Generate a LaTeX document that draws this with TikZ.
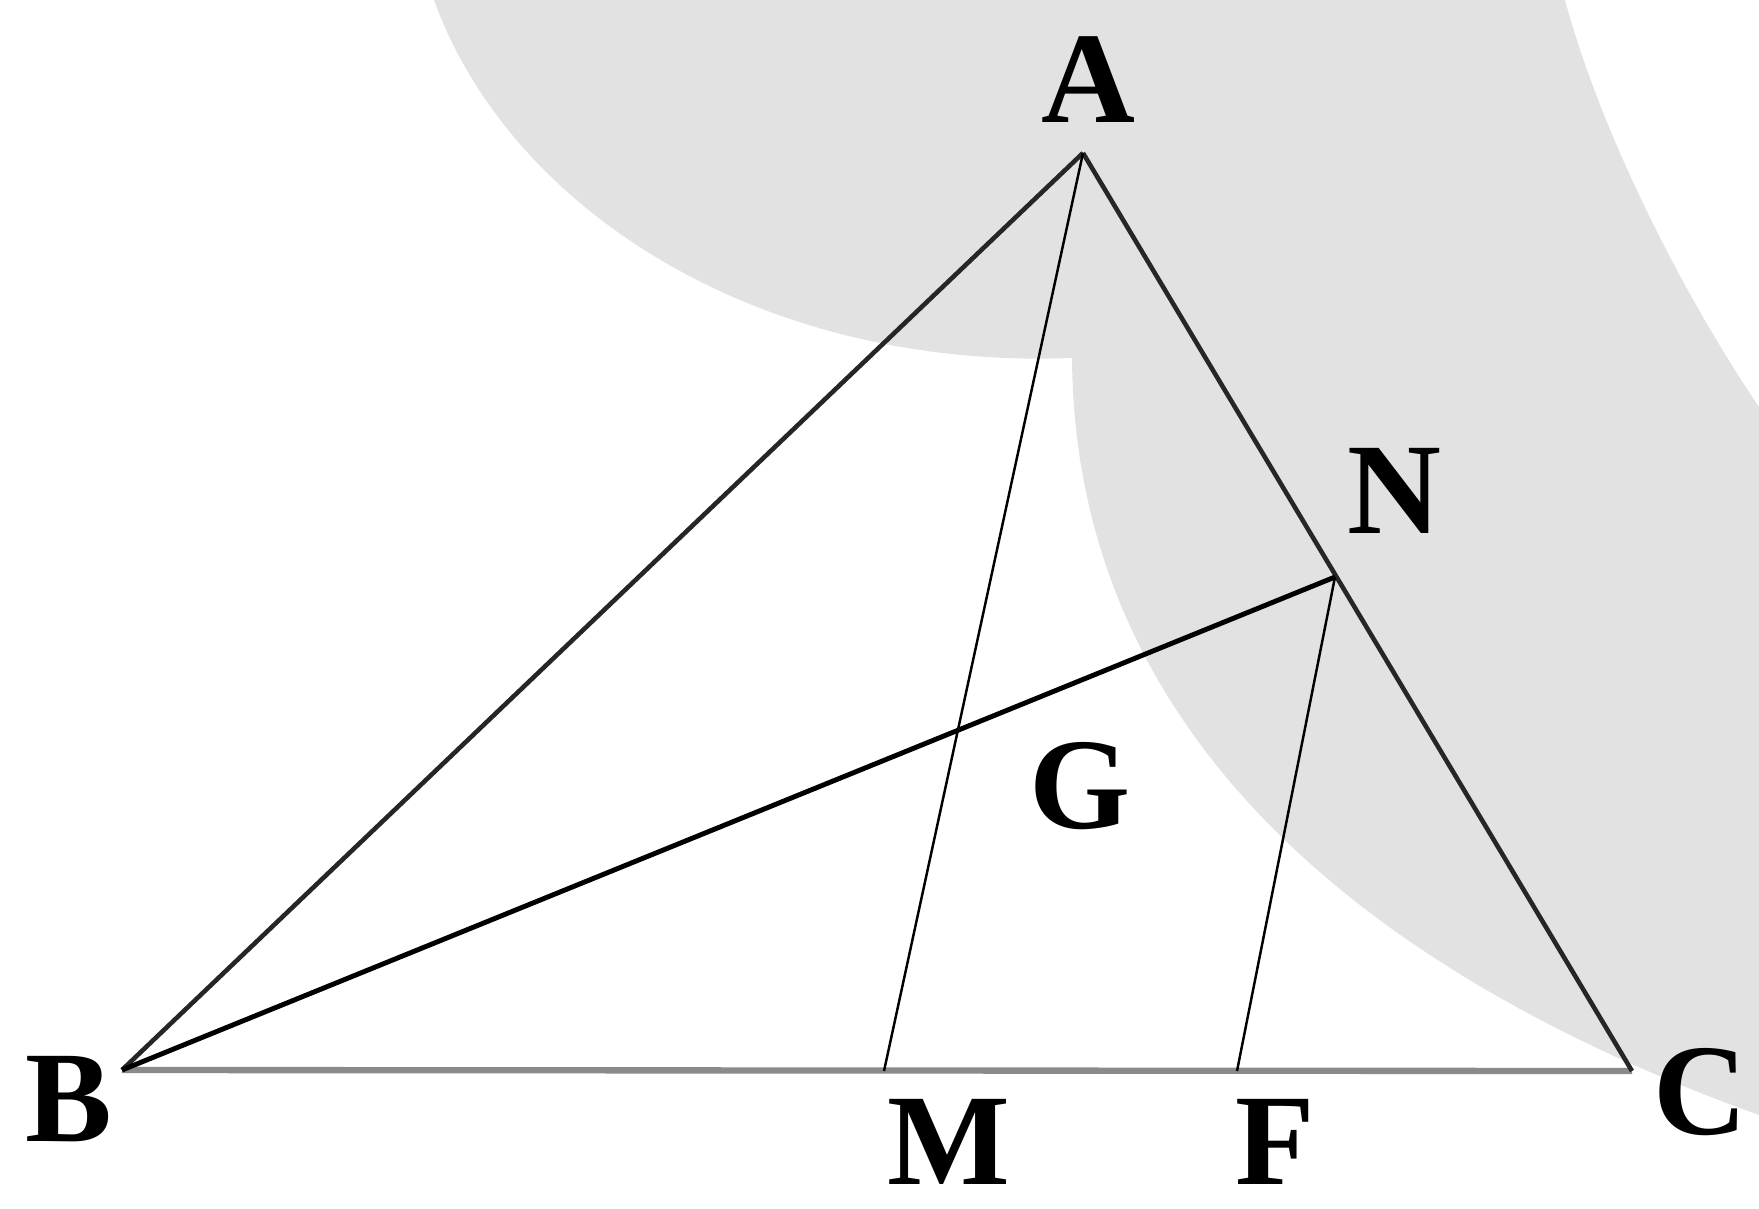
\documentclass[tikz,border=0pt]{standalone}
\usepackage{fontspec}
\setmainfont{Liberation Serif}
\usetikzlibrary{positioning}
\definecolor{bgshade}{HTML}{E2E2E2}
\definecolor{basegray}{HTML}{8A8A8A}
\tikzset{
  lbl/.style ={font=\fontsize{37}{37}\selectfont\bfseries,inner sep=0pt},
  side/.style={line width=1.3pt,draw=black!85},
  cev/.style ={line width=0.7pt,draw=black},
  base/.style={line width=1.8pt,draw=basegray}
}
\begin{document}
\begin{tikzpicture}[x=0.1mm,y=-0.1mm]
  \useasboundingbox (0,0) rectangle (1759,1208);
  % shaded background
  \fill[bgshade] (434,0) .. controls (510,210) and (760,370) .. (1072,358)
    .. controls (1075,780) and (1440,1000) .. (1759,1115)
    -- (1759,407) .. controls (1680,290) and (1600,130) .. (1565,0) -- cycle;
  % points
  \coordinate (A) at (1083,153);
  \coordinate (B) at (122,1070);
  \coordinate (C) at (1632,1071);
  \coordinate (N) at (1335,577);
  \coordinate (M) at (884,1071);
  \coordinate (F) at (1237,1071);
  % triangle and lines
  \draw[base] (B) -- (C);
  \draw[side] (A) -- (B);
  \draw[side] (A) -- (C);
  \draw[side,line width=1.4pt,draw=black] (B) -- (N);
  \draw[cev] (A) -- (M);
  \draw[cev] (N) -- (F);
  % labels
  \node[lbl] (lA) at (1088,80) {A};
  \node[lbl] (lB) at (69,1099) {B};
  \node[lbl] (lC) at (1700,1092) {C};
  \node[lbl] (lN) at (1394,491) {N};
  \node[lbl] (lG) at (1080,786) {G};
  \node[lbl] (lM) at (949,1142) {M};
  \node[lbl] (lF) at (1275,1142) {F};
\end{tikzpicture}
\end{document}
